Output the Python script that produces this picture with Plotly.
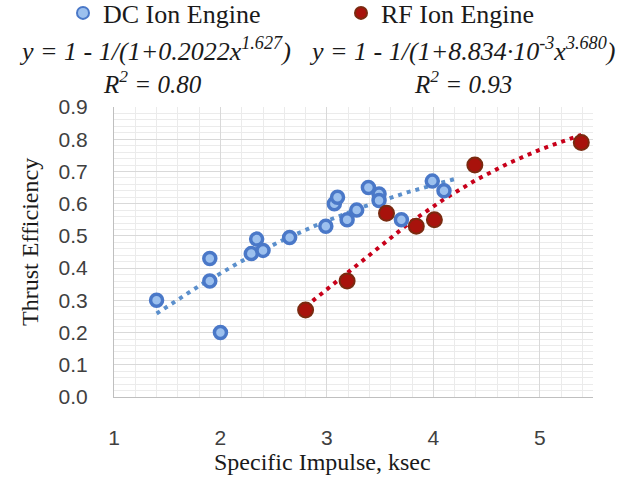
import numpy as np
import plotly.graph_objects as go

# Measured thrust efficiency vs specific impulse (ksec)
dc_isp = [1.40, 1.90, 1.90, 2.00, 2.29, 2.34, 2.40, 2.65, 2.99, 3.07, 3.10,
          3.19, 3.28, 3.39, 3.49, 3.49, 3.70, 3.99, 4.10]
dc_eff = [0.30, 0.43, 0.36, 0.20, 0.445, 0.49, 0.455, 0.495, 0.53, 0.60, 0.62,
          0.55, 0.58, 0.65, 0.63, 0.61, 0.55, 0.67, 0.64]
rf_isp = [2.80, 3.19, 3.56, 3.84, 4.01, 4.39, 5.39]
rf_eff = [0.27, 0.36, 0.57, 0.53, 0.55, 0.72, 0.79]

# Fitted trendlines: y = 1 - 1/(1 + a*x^b)
dc_fit = (0.2022, 1.627, 0.80)
rf_fit = (8.834e-3, 3.680, 0.93)

x_ticks = [1, 2, 3, 4, 5]
y_ticks = [round(0.1 * i, 1) for i in range(10)]

W, H = 622, 479
L, R, T, B = 114, 29, 107, 82
PW, PH = W - L - R, H - T - B


def px(x):
    return (x - L) / PW


def py(y):
    return (H - B - y) / PH


def trend(xs, a, b, end=None):
    x = np.linspace(min(xs), end if end else max(xs), 120)
    return x, 1 - 1 / (1 + a * x ** b)


serif = "'Liberation Serif', 'DejaVu Serif', serif"
sans = "Liberation Sans"

fig = go.Figure()

tx, ty = trend(dc_isp, dc_fit[0], dc_fit[1], end=4.2)
fig.add_trace(go.Scatter(x=tx, y=ty, mode="lines", showlegend=False, hoverinfo="skip",
                         line=dict(color="#5b8fcc", width=4, dash="4px,5px")))
tx, ty = trend(rf_isp, rf_fit[0], rf_fit[1])
fig.add_trace(go.Scatter(x=tx, y=ty, mode="lines", showlegend=False, hoverinfo="skip",
                         line=dict(color="#c8001a", width=4, dash="4px,5px")))

fig.add_trace(go.Scatter(
    x=dc_isp, y=dc_eff, mode="markers", name="DC Ion Engine", legend="legend",
    marker=dict(size=12, color="#9cc0ee", line=dict(color="#4a78c8", width=3.5))))
fig.add_trace(go.Scatter(
    x=rf_isp, y=rf_eff, mode="markers", name="RF Ion Engine", legend="legend2",
    marker=dict(size=15, color="#a8120c", line=dict(color="#7a2a10", width=2))))

leg_common = dict(orientation="h", xanchor="left", yanchor="middle", itemwidth=30,
                  bgcolor="rgba(0,0,0,0)", font=dict(family=serif, size=26, color="#1a1a1a"),
                  itemsizing="constant")

annos = []
eq_font = dict(family=serif, size=26, color="#1a1a1a")
annos.append(dict(x=px(155), y=py(50),
                  text="<i>y = 1 - 1/(1+0.2022x<sup>1.627</sup>)</i>"))
annos.append(dict(x=px(462), y=py(50),
                  text="<i>y = 1 - 1/(1+8.834·10<sup>-3</sup>x<sup>3.680</sup>)</i>"))
annos.append(dict(x=px(152), y=py(82), text=f"<i>R<sup>2</sup> = {dc_fit[2]:.2f}</i>"))
annos.append(dict(x=px(463), y=py(82), text=f"<i>R<sup>2</sup> = {rf_fit[2]:.2f}</i>"))
annos = [dict(a, xref="paper", yref="paper", showarrow=False,
              font=eq_font if "y =" in a["text"] else dict(eq_font, size=25),
              xanchor="center", yanchor="middle") for a in annos]
annos.append(dict(x=px(322), y=py(462), xref="paper", yref="paper", showarrow=False,
                  text="Specific Impulse, ksec", xanchor="center", yanchor="middle",
                  font=dict(family=serif, size=24, color="#1a1a1a")))
annos.append(dict(x=px(30), y=py(242), xref="paper", yref="paper", showarrow=False,
                  text="Thrust Efficiency", textangle=-90, xanchor="center", yanchor="middle",
                  font=dict(family=serif, size=24, color="#1a1a1a")))

fig.update_layout(
    width=W, height=H,
    margin=dict(l=L, r=R, t=T, b=B, pad=0, autoexpand=False),
    paper_bgcolor="white", plot_bgcolor="white",
    legend=dict(leg_common, x=px(63), y=py(13)),
    legend2=dict(leg_common, x=px(341), y=py(13)),
    annotations=annos,
    xaxis=dict(range=[1, 5.5], tickvals=x_ticks, ticktext=[str(v) for v in x_ticks],
               showgrid=True, gridcolor="#d9d9d9", gridwidth=1,
               minor=dict(dtick=0.2, showgrid=True, gridcolor="#ebebeb", gridwidth=1),
               showline=True, linecolor="#bfbfbf", linewidth=1, zeroline=False,
               ticks="", ticklabelstandoff=22,
               tickfont=dict(family=sans, size=21, color="#404040")),
    yaxis=dict(range=[0, 0.9], tickvals=y_ticks, ticktext=[f"{v:.1f}" for v in y_ticks],
               showgrid=True, gridcolor="#d9d9d9", gridwidth=1,
               minor=dict(dtick=0.02, showgrid=True, gridcolor="#ebebeb", gridwidth=1),
               showline=True, linecolor="#bfbfbf", linewidth=1, zeroline=False,
               ticks="", ticklabelstandoff=21,
               tickfont=dict(family=sans, size=21, color="#404040")),
)

fig.write_html("out.html")
